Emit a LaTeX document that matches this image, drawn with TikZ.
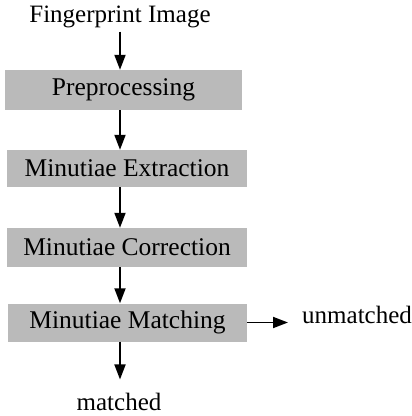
\documentclass[tikz,border=0pt]{standalone}
\usepackage{fontspec}
\setmainfont{Liberation Serif}
\usetikzlibrary{arrows.meta}
\begin{document}
\begin{tikzpicture}[x=1pt,y=-1pt,
  stage/.style={fill=black!27, minimum height=39pt, inner sep=0pt,
    font=\fontsize{25.5}{29}\selectfont},
  plain/.style={inner sep=0pt, font=\fontsize{25}{29}\selectfont},
  flow/.style={line width=1.8pt, -{Triangle[length=15pt,width=11pt]}}]
\useasboundingbox (0,0) rectangle (412,416);
% vertical axis the arrows run along
\coordinate (spine) at (120,0);
% input and output labels
\node[plain, anchor=base] (img) at (120,22) {Fingerprint Image};
\node[plain, anchor=base] (matched) at (119,410) {matched};
\node[plain, anchor=base west] (unmatched) at (302,323) {unmatched};
% processing stages
\node[stage, minimum width=237pt, minimum height=40pt] (pre) at (123.5,90) {Preprocessing};
\node[stage, minimum width=240pt, minimum height=37pt] (ext) at (127,168.5) {Minutiae Extraction};
\node[stage, minimum width=240pt] (cor) at (127,247.5) {Minutiae Correction};
\node[stage, minimum width=239pt, minimum height=38pt] (mat) at (127.5,322.5) {Minutiae Matching};
% connectors
\draw[flow, shorten <=4pt] (img.south -| spine) -- (pre.north -| spine);
\draw[flow] (pre.south -| spine) -- (ext.north -| spine);
\draw[flow] (ext.south -| spine) -- (cor.north -| spine);
\draw[flow] (cor.south -| spine) -- (mat.north -| spine);
\draw[flow, shorten >=13pt] (mat.south -| spine) -- (matched.north -| spine);
\draw[flow, shorten >=14pt] (mat.east) -- (mat.east -| unmatched.west);
\end{tikzpicture}
\end{document}
